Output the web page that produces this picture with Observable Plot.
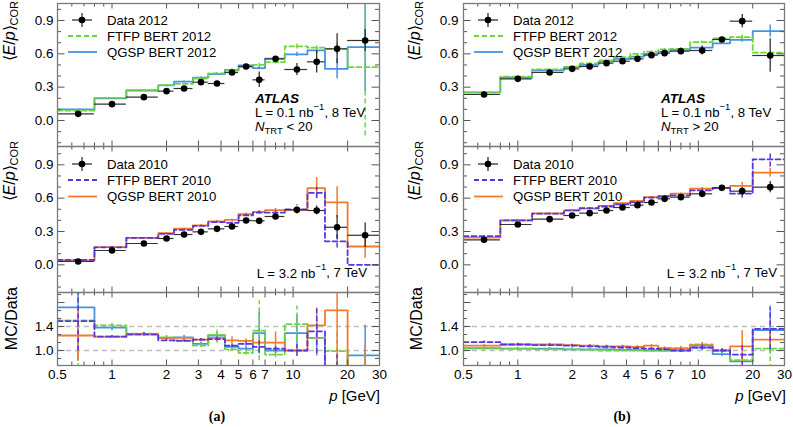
<!DOCTYPE html>
<html><head><meta charset="utf-8">
<script src="https://cdn.jsdelivr.net/npm/d3@7"></script>
<script src="https://cdn.jsdelivr.net/npm/@observablehq/plot@0.6"></script>
<style>
body{margin:0;background:#fff;}
#root{position:relative;width:793px;height:427px;overflow:hidden;background:#fff;font-family:"Liberation Sans",Arial,Helvetica,sans-serif;}
.pl{position:absolute;}
.pl svg{overflow:visible;}
#ov{position:absolute;left:0;top:0;pointer-events:none;}
</style></head><body><div id="root"></div>
<script>
// ---------- data ----------
const binEdges = [0.5, 0.8, 1.2, 1.8, 2.2, 2.8, 3.4, 4.2, 5, 6, 7, 9, 12, 15, 20, 30];
const xTickLabels = [0.5, 1, 2, 3, 4, 5, 6, 7, 10, 20, 30];
const xMajorTicks = [1, 2, 3, 4, 5, 6, 7, 10, 20];
const xMinorTicks = [0.6, 0.7, 0.8, 0.9, 8, 9];
const yTickLabels = [0.0, 0.3, 0.6, 0.9];
const yMinorTicks = [-0.2, -0.1, 0.1, 0.2, 0.4, 0.5, 0.7, 0.8, 1.0];
const rTickLabels = [1.0, 1.4];
const rMajorTicks = [1.0, 1.4, 1.8];
const rMinorTicks = [0.867, 1.133, 1.267, 1.533, 1.667, 1.933];
const rRefLines = [1.0, 1.4];

// (a) N_TRT < 20
const a_data2012 = [0.06, 0.147, 0.21, 0.264, 0.288, 0.345, 0.333, 0.432, 0.486, 0.366, 0.555, 0.459, 0.528, 0.645, 0.72];
const a_data2012Err = [0.008, 0.008, 0.008, 0.008, 0.008, 0.01, 0.012, 0.012, 0.015, 0.07, 0.02, 0.053, 0.1, 0.135, 0.1];
const a_qgsp2012 = [0.10, 0.20, 0.27, 0.316, 0.35, 0.385, 0.418, 0.455, 0.497, 0.472, 0.556, 0.595, 0.632, 0.465, 0.66];
const a_qgsp2012Err = [0.004, 0.004, 0.004, 0.005, 0.005, 0.006, 0.007, 0.008, 0.01, 0.015, 0.015, 0.02, 0.03, 0.09, 0.4];
const a_ftfp2012 = [0.09, 0.204, 0.274, 0.318, 0.33, 0.378, 0.425, 0.45, 0.482, 0.5, 0.525, 0.668, 0.655, 0.645, 0.48];
const a_ftfp2012Err = [0.004, 0.004, 0.004, 0.005, 0.005, 0.006, 0.007, 0.008, 0.01, 0.015, 0.015, 0.025, 0.03, 0.05, 0.62];
const a_data2010 = [0.03, 0.129, 0.192, 0.237, 0.273, 0.297, 0.324, 0.345, 0.399, 0.396, 0.435, 0.495, 0.489, 0.338, 0.266];
const a_data2010Err = [0.005, 0.005, 0.005, 0.006, 0.006, 0.007, 0.008, 0.01, 0.012, 0.015, 0.02, 0.025, 0.04, 0.105, 0.11];
const a_qgsp2010 = [0.037, 0.16, 0.243, 0.286, 0.326, 0.355, 0.392, 0.405, 0.457, 0.476, 0.492, 0.495, 0.69, 0.563, 0.165];
const a_qgsp2010Err = [0.004, 0.004, 0.004, 0.005, 0.005, 0.006, 0.007, 0.008, 0.01, 0.012, 0.015, 0.02, 0.095, 0.14, 0.105];
const a_ftfp2010 = [0.045, 0.158, 0.243, 0.278, 0.315, 0.35, 0.385, 0.378, 0.445, 0.47, 0.47, 0.5, 0.648, 0.212, 0.0];
const a_ftfp2010Err = [0.004, 0.004, 0.004, 0.005, 0.005, 0.006, 0.007, 0.008, 0.01, 0.012, 0.015, 0.04, 0.05, 0.06, 0.0];
const a_rQgsp2012 = [1.72, 1.38, 1.27, 1.21, 1.22, 1.11, 1.25, 1.06, 1.03, 1.29, 1.0, 1.29, 1.21, 0.72, 0.92];
const a_rQgsp2012Err = [0.9, 0.05, 0.03, 0.03, 0.03, 0.03, 0.05, 0.03, 0.04, 0.35, 0.05, 0.3, 0.3, 0.2, 0.5];
const a_rFtfp2012 = [1.5, 1.42, 1.28, 1.22, 1.17, 1.08, 1.26, 1.02, 0.96, 1.33, 0.93, 1.44, 1.21, 0.99, 0.67];
const a_rFtfp2012Err = [0.8, 0.05, 0.03, 0.03, 0.03, 0.03, 0.14, 0.03, 0.04, 0.5, 0.05, 0.3, 0.25, 0.3, 0.3];
const a_rQgsp2010 = [1.25, 1.23, 1.27, 1.21, 1.21, 1.18, 1.21, 1.17, 1.16, 1.13, 1.13, 1.0, 1.42, 1.67, 0.6];
const a_rQgsp2010Err = [0.42, 0.02, 0.02, 0.02, 0.02, 0.02, 0.03, 0.06, 0.03, 0.05, 0.18, 0.05, 0.29, 0.9, 0.48];
const a_rFtfp2010 = [1.49, 1.23, 1.27, 1.17, 1.16, 1.18, 1.19, 1.08, 1.11, 1.06, 1.03, 1.0, 1.32, 0.63, 0.0];
const a_rFtfp2010Err = [0.5, 0.02, 0.02, 0.02, 0.02, 0.02, 0.03, 0.03, 0.03, 0.1, 0.05, 0.1, 0.37, 0.3, 0.0];

// (b) N_TRT > 20
const b_data2012 = [0.234, 0.375, 0.432, 0.465, 0.486, 0.516, 0.534, 0.555, 0.588, 0.606, 0.624, 0.63, 0.729, 0.894, 0.585];
const b_data2012Err = [0.004, 0.004, 0.004, 0.004, 0.004, 0.005, 0.005, 0.006, 0.007, 0.008, 0.01, 0.04, 0.015, 0.06, 0.15];
const b_qgsp2012 = [0.25, 0.385, 0.45, 0.48, 0.5, 0.53, 0.555, 0.575, 0.6, 0.62, 0.635, 0.655, 0.695, 0.725, 0.805];
const b_qgsp2012Err = [0.003, 0.003, 0.003, 0.003, 0.003, 0.004, 0.004, 0.005, 0.005, 0.006, 0.007, 0.01, 0.01, 0.02, 0.055];
const b_ftfp2012 = [0.255, 0.395, 0.46, 0.485, 0.515, 0.54, 0.57, 0.6, 0.62, 0.64, 0.645, 0.705, 0.74, 0.75, 0.61];
const b_ftfp2012Err = [0.003, 0.003, 0.003, 0.003, 0.003, 0.004, 0.004, 0.005, 0.005, 0.006, 0.007, 0.01, 0.01, 0.02, 0.03];
const b_data2010 = [0.225, 0.363, 0.411, 0.444, 0.465, 0.489, 0.516, 0.537, 0.561, 0.594, 0.609, 0.639, 0.693, 0.663, 0.699];
const b_data2010Err = [0.003, 0.003, 0.003, 0.003, 0.004, 0.004, 0.004, 0.005, 0.005, 0.006, 0.007, 0.015, 0.01, 0.03, 0.05];
const b_qgsp2010 = [0.245, 0.4, 0.463, 0.49, 0.505, 0.53, 0.555, 0.575, 0.61, 0.62, 0.64, 0.685, 0.69, 0.71, 0.83];
const b_qgsp2010Err = [0.003, 0.003, 0.003, 0.003, 0.003, 0.004, 0.004, 0.005, 0.005, 0.006, 0.007, 0.01, 0.01, 0.03, 0.04];
const b_ftfp2010 = [0.258, 0.4, 0.46, 0.49, 0.51, 0.525, 0.545, 0.565, 0.605, 0.615, 0.625, 0.67, 0.69, 0.64, 0.95];
const b_ftfp2010Err = [0.003, 0.003, 0.003, 0.003, 0.003, 0.004, 0.004, 0.005, 0.005, 0.006, 0.007, 0.01, 0.01, 0.04, 0.07];
const b_rQgsp2012 = [1.04, 1.03, 1.03, 1.02, 1.02, 1.02, 1.01, 1.01, 1.0, 1.0, 1.0, 1.05, 0.94, 0.82, 1.34];
const b_rQgsp2012Err = [0.02, 0.02, 0.02, 0.02, 0.02, 0.02, 0.02, 0.02, 0.02, 0.02, 0.03, 0.05, 0.04, 0.05, 0.4];
const b_rFtfp2012 = [1.03, 1.03, 1.02, 1.02, 1.01, 1.0, 1.0, 1.0, 1.01, 1.0, 1.04, 1.1, 1.0, 0.84, 1.03];
const b_rFtfp2012Err = [0.02, 0.02, 0.02, 0.02, 0.02, 0.02, 0.02, 0.02, 0.02, 0.02, 0.03, 0.05, 0.03, 0.05, 0.35];
const b_rQgsp2010 = [1.08, 1.1, 1.1, 1.09, 1.08, 1.07, 1.07, 1.06, 1.08, 1.04, 1.03, 1.09, 1.0, 1.07, 1.18];
const b_rQgsp2010Err = [0.02, 0.02, 0.02, 0.02, 0.02, 0.02, 0.02, 0.02, 0.02, 0.02, 0.03, 0.04, 0.03, 0.26, 0.1];
const b_rFtfp2010 = [1.14, 1.1, 1.09, 1.08, 1.07, 1.06, 1.05, 1.04, 1.03, 1.02, 1.0, 1.05, 1.0, 0.93, 1.36];
const b_rFtfp2010Err = [0.02, 0.02, 0.02, 0.02, 0.02, 0.02, 0.02, 0.02, 0.02, 0.02, 0.03, 0.04, 0.03, 0.2, 0.35];

// ---------- style ----------
const C = {q12: "#4592e4", f12: "#6dd63c", q10: "#f27b2b", f10: "#5736e0", data: "#111"};
const DASH = "5,3";
const FONT = '"Liberation Sans", Arial, Helvetica, sans-serif';

function bins(vals, errs) {
  return vals.map((v, i) => ({lo: binEdges[i], hi: binEdges[i + 1], c: (binEdges[i] + binEdges[i + 1]) / 2, v, e: errs[i]}));
}
function steps(vals) {
  return binEdges.map((e, i) => ({x: e, y: vals[Math.min(i, vals.length - 1)]}));
}
function mcMarks(vals, errs, color, dash) {
  return [
    Plot.ruleX(bins(vals, errs), {x: "c", y1: d => d.v - d.e, y2: d => d.v + d.e, stroke: color, strokeWidth: 1.5, strokeDasharray: dash, clip: true}),
    Plot.line(steps(vals), {x: "x", y: "y", curve: "step-after", stroke: color, strokeWidth: 1.8, strokeDasharray: dash, clip: true})
  ];
}
function dataMarks(vals, errs) {
  const b = bins(vals, errs);
  return [
    Plot.ruleY(b, {y: "v", x1: "lo", x2: "hi", stroke: "#333", strokeWidth: 1.2, clip: true}),
    Plot.ruleX(b, {x: "c", y1: d => d.v - d.e, y2: d => d.v + d.e, stroke: "#222", strokeWidth: 1.2, clip: true}),
    Plot.dot(b, {x: "c", y: "v", r: 3.3, fill: "#000", stroke: "none", clip: true})
  ];
}
function frameTicks(yMaj, yMin, dom, pw, ph) {
  const inD = t => t > dom[0] && t < dom[1];
  const s = "#555";
  return [
    Plot.tickX(xMajorTicks, {x: d => d, insetBottom: ph - 5.5, stroke: s}),
    Plot.tickX(xMajorTicks, {x: d => d, insetTop: ph - 5.5, stroke: s}),
    Plot.tickX(xMinorTicks, {x: d => d, insetBottom: ph - 3.5, stroke: s}),
    Plot.tickX(xMinorTicks, {x: d => d, insetTop: ph - 3.5, stroke: s}),
    Plot.tickY(yMaj.filter(inD), {y: d => d, insetRight: pw - 7.5, stroke: s}),
    Plot.tickY(yMaj.filter(inD), {y: d => d, insetLeft: pw - 7.5, stroke: s}),
    Plot.tickY(yMin.filter(inD), {y: d => d, insetRight: pw - 4, stroke: s}),
    Plot.tickY(yMin.filter(inD), {y: d => d, insetLeft: pw - 4, stroke: s})
  ];
}

const root = document.getElementById("root");
const COLW = 396;
const cols = [
  {left: 0, mL: 57, mR: 17},
  {left: 397, mL: 66, mR: 9}
];
const rows = [
  {top: 0, h: 146, mT: 3, mB: 0, dom: [-0.234, 1.053], kind: "main"},
  {top: 146, h: 146, mT: 0, mB: 0, dom: [-0.249, 1.065], kind: "main"},
  {top: 292, h: 110, mT: 0, mB: 37, dom: [0.75, 1.967], kind: "ratio"}
];

const content = [
  [ // column a
    [...mcMarks(a_qgsp2012, a_qgsp2012Err, C.q12, null), ...mcMarks(a_ftfp2012, a_ftfp2012Err, C.f12, DASH), ...dataMarks(a_data2012, a_data2012Err)],
    [...mcMarks(a_qgsp2010, a_qgsp2010Err, C.q10, null), ...mcMarks(a_ftfp2010, a_ftfp2010Err, C.f10, DASH), ...dataMarks(a_data2010, a_data2010Err)],
    [...mcMarks(a_rQgsp2012, a_rQgsp2012Err, C.q12, null), ...mcMarks(a_rFtfp2012, a_rFtfp2012Err, C.f12, DASH),
     ...mcMarks(a_rQgsp2010, a_rQgsp2010Err, C.q10, null), ...mcMarks(a_rFtfp2010, a_rFtfp2010Err, C.f10, DASH)]
  ],
  [ // column b
    [...mcMarks(b_qgsp2012, b_qgsp2012Err, C.q12, null), ...mcMarks(b_ftfp2012, b_ftfp2012Err, C.f12, DASH), ...dataMarks(b_data2012, b_data2012Err)],
    [...mcMarks(b_qgsp2010, b_qgsp2010Err, C.q10, null), ...mcMarks(b_ftfp2010, b_ftfp2010Err, C.f10, DASH), ...dataMarks(b_data2010, b_data2010Err)],
    [...mcMarks(b_rQgsp2012, b_rQgsp2012Err, C.q12, null), ...mcMarks(b_rFtfp2012, b_rFtfp2012Err, C.f12, DASH),
     ...mcMarks(b_rQgsp2010, b_rQgsp2010Err, C.q10, null), ...mcMarks(b_rFtfp2010, b_rFtfp2010Err, C.f10, DASH)]
  ]
];

cols.forEach((col, ci) => {
  rows.forEach((row, ri) => {
    const pw = COLW - col.mL - col.mR;
    const ph = row.h - row.mT - row.mB;
    const isRatio = row.kind === "ratio";
    const marks = [];
    if (isRatio) marks.push(Plot.ruleY(rRefLines, {y: d => d, stroke: "#bdbdbd", strokeWidth: 1.4, strokeDasharray: "5,4"}));
    marks.push(...content[ci][ri]);
    marks.push(...frameTicks(isRatio ? rMajorTicks : yTickLabels, isRatio ? rMinorTicks : yMinorTicks, row.dom, pw, ph));
    marks.push(Plot.frame({stroke: "#7a7a7a", strokeWidth: 1.3}));
    marks.push(Plot.axisY(isRatio ? rTickLabels : yTickLabels, {anchor: "left", tickSize: 0, tickPadding: ci === 0 ? 4 : 5, tickFormat: d => d.toFixed(1), label: null, fill: "#000", fontSize: 13.5}));
    if (isRatio) marks.push(Plot.text(xTickLabels, {x: d => d, text: d => String(d), frameAnchor: "bottom", lineAnchor: "top", dy: 4, fill: "#000", fontSize: 13.5}));
    const chart = Plot.plot({
      width: COLW, height: row.h,
      marginLeft: col.mL, marginRight: col.mR, marginTop: row.mT, marginBottom: row.mB,
      x: {type: "log", domain: [0.5, 30], axis: null},
      y: {domain: row.dom, axis: null},
      style: {background: "transparent", overflow: "visible", fontFamily: FONT, fontSize: "13.5px", color: "#000"},
      marks
    });
    const wrap = document.createElement("div");
    wrap.className = "pl";
    wrap.style.left = col.left + "px";
    wrap.style.top = row.top + "px";
    wrap.appendChild(chart);
    root.appendChild(wrap);
  });
});

// ---------- overlay: legends, annotations, titles ----------
const ov = d3.select(root).append("svg").attr("id", "ov").attr("width", 793).attr("height", 427)
  .style("font-family", FONT);

function legend(px, rowsY, items) {
  items.forEach((it, i) => {
    const y = rowsY[i];
    if (it.type === "data") {
      ov.append("line").attr("x1", px + 15).attr("x2", px + 35).attr("y1", y).attr("y2", y).attr("stroke", "#222").attr("stroke-width", 1.2);
      ov.append("line").attr("x1", px + 25).attr("x2", px + 25).attr("y1", y - 7).attr("y2", y + 7).attr("stroke", "#222").attr("stroke-width", 1.2);
      ov.append("circle").attr("cx", px + 25).attr("cy", y).attr("r", 3.3).attr("fill", "#000");
    } else {
      ov.append("line").attr("x1", px + 11).attr("x2", px + 40).attr("y1", y).attr("y2", y)
        .attr("stroke", it.color).attr("stroke-width", 1.8).attr("stroke-dasharray", it.dash);
    }
    ov.append("text").attr("x", px + 50).attr("y", y).attr("dy", "0.35em").attr("font-size", 13.2).attr("fill", "#000").text(it.label);
  });
}
[[57], [463]].forEach(([px]) => {
  legend(px, [20, 36, 52], [
    {type: "data", label: "Data 2012"},
    {color: C.f12, dash: DASH, label: "FTFP BERT 2012"},
    {color: C.q12, dash: null, label: "QGSP BERT 2012"}
  ]);
  legend(px, [164, 180, 196.5], [
    {type: "data", label: "Data 2010"},
    {color: C.f10, dash: DASH, label: "FTFP BERT 2010"},
    {color: C.q10, dash: null, label: "QGSP BERT 2010"}
  ]);
});

function atlas(x, cmp) {
  ov.append("text").attr("x", x).attr("y", 98).attr("dy", "0.35em").attr("font-size", 13.5)
    .attr("font-weight", "bold").attr("font-style", "italic").text("ATLAS");
  const t = ov.append("text").attr("x", x).attr("y", 112.5).attr("dy", "0.35em").attr("font-size", 13.2);
  t.append("tspan").text("L = 0.1 nb");
  t.append("tspan").attr("font-size", 9.5).attr("dy", "-0.75em").text("\u22121");
  t.append("tspan").attr("dy", "0.52em").text(", 8 TeV");
  const n = ov.append("text").attr("x", x).attr("y", 126.5).attr("dy", "0.35em").attr("font-size", 13.2);
  n.append("tspan").attr("font-style", "italic").text("N");
  n.append("tspan").attr("font-size", 9.5).attr("dy", "0.3em").text("TRT");
  n.append("tspan").attr("dy", "-0.22em").text(" " + cmp + " 20");
}
atlas(255, "<");
atlas(661, ">");

function lumi(xEnd) {
  const t = ov.append("text").attr("x", xEnd).attr("y", 273).attr("dy", "0.35em").attr("font-size", 13.2).attr("text-anchor", "end");
  t.append("tspan").text("L = 3.2 nb");
  t.append("tspan").attr("font-size", 9.5).attr("dy", "-0.75em").text("\u22121");
  t.append("tspan").attr("dy", "0.52em").text(", 7 TeV");
}
lumi(367);
lumi(777);

function ep(x, yEnd) {
  const t = ov.append("text").attr("transform", `translate(${x},${yEnd}) rotate(-90)`).attr("text-anchor", "end").attr("font-size", 16);
  t.append("tspan").text("\u27E8");
  t.append("tspan").attr("font-style", "italic").text("E");
  t.append("tspan").text("/");
  t.append("tspan").attr("font-style", "italic").text("p");
  t.append("tspan").text("\u27E9");
  t.append("tspan").attr("font-size", 11).attr("dy", "0.3em").text("COR");
}
function mcd(x, yEnd) {
  ov.append("text").attr("transform", `translate(${x},${yEnd}) rotate(-90)`).attr("text-anchor", "end").attr("font-size", 16).text("MC/Data");
}
[15, 420].forEach(x => { ep(x, 1); ep(x, 141); mcd(x + 1.5, 287); });

function pgev(xEnd) {
  const t = ov.append("text").attr("x", xEnd).attr("y", 396).attr("dy", "0.35em").attr("font-size", 15).attr("text-anchor", "end");
  t.append("tspan").attr("font-style", "italic").text("p");
  t.append("tspan").text(" [GeV]");
}
pgev(380);
pgev(786);

[["(a)", 217], ["(b)", 622]].forEach(([s, x]) => {
  ov.append("text").attr("x", x).attr("y", 416).attr("dy", "0.35em").attr("text-anchor", "middle")
    .attr("font-size", 14).attr("font-weight", "bold").attr("font-family", '"Liberation Serif", "DejaVu Serif", serif').text(s);
});
</script></body></html>
